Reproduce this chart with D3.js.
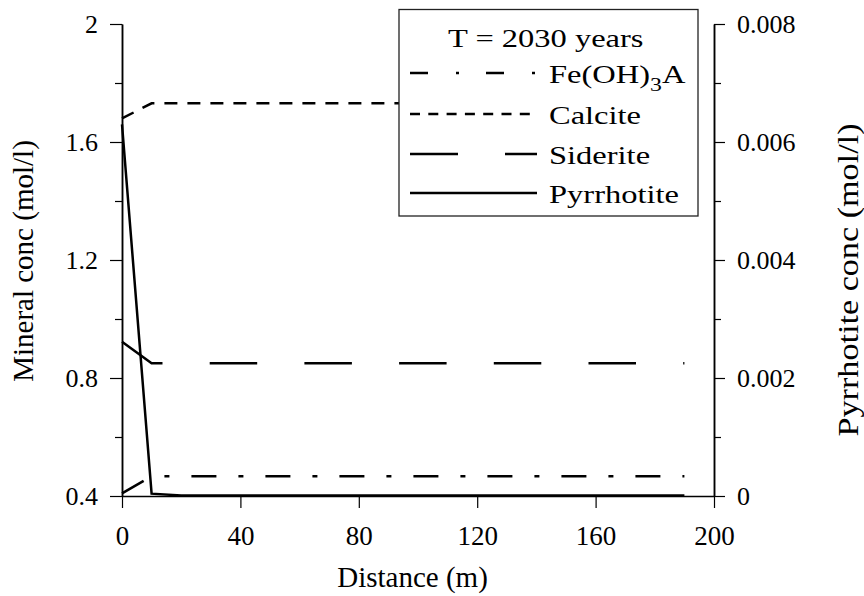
<!DOCTYPE html>
<html lang="en">
  <head>
    <meta charset="utf-8" />
    <script src="https://d3js.org/d3.v7.min.js"></script>
    <style>
      body {
        margin: 0;
        background-color: #fff;
      }
      svg text {
        font-family: "Liberation Serif", "Times New Roman", serif;
        fill: #000;
      }
    </style>
  </head>
  <body>
    <div id="chart"></div>

    <script>
      const width = 864;
      const height = 596;

      // distance grid (m)
      const distance = [0, 10, 20, 30, 40, 50, 60, 70, 80, 90, 100, 110, 120, 130, 140, 150, 160, 170, 180, 190];

      // mineral conc (mol/l), left axis
      const feoh3a = [0.409, 0.467, 0.467, 0.467, 0.467, 0.467, 0.467, 0.467, 0.467, 0.467, 0.467, 0.467, 0.467, 0.467, 0.467, 0.467, 0.467, 0.467, 0.467, 0.467];
      const calcite = [1.68, 1.731, 1.731, 1.731, 1.731, 1.731, 1.731, 1.731, 1.731, 1.731, 1.731, 1.731, 1.731, 1.731, 1.731, 1.731, 1.731, 1.731, 1.731, 1.731];
      const siderite = [0.923, 0.85, 0.85, 0.85, 0.85, 0.85, 0.85, 0.85, 0.85, 0.85, 0.85, 0.85, 0.85, 0.85, 0.85, 0.85, 0.85, 0.85, 0.85, 0.85];

      // pyrrhotite conc (mol/l), right axis
      const pyrrhotite = [0.0063, 0.00004, 0.00001, 0.00001, 0.00001, 0.00001, 0.00001, 0.00001, 0.00001, 0.00001, 0.00001, 0.00001, 0.00001, 0.00001, 0.00001, 0.00001, 0.00001, 0.00001, 0.00001, 0.00001];

      const xTicks = [0, 40, 80, 120, 160, 200];
      const xMinor = [20, 60, 100, 140, 180];
      const leftTicks = [0.4, 0.8, 1.2, 1.6, 2];
      const leftTickLabels = ["0.4", "0.8", "1.2", "1.6", "2"];
      const leftMinor = [0.6, 1.0, 1.4, 1.8];
      const rightTicks = [0, 0.002, 0.004, 0.006, 0.008];
      const rightTickLabels = ["0", "0.002", "0.004", "0.006", "0.008"];
      const rightMinor = [0.001, 0.003, 0.005, 0.007];

      const legendTitle = "T = 2030 years";
      const seriesNames = ["Fe(OH)3A", "Calcite", "Siderite", "Pyrrhotite"];

      // line styles per series
      const lineDash = {
        "Fe(OH)3A": "25,22,5,22",
        Calcite: "13,10",
        Siderite: "47.5,47.2",
        Pyrrhotite: null
      };
      const legendDash = {
        "Fe(OH)3A": "18,28,3,27",
        Calcite: "10,8.3",
        Siderite: "48,47",
        Pyrrhotite: null
      };

      const svg = d3
        .select("#chart")
        .append("svg")
        .attr("width", width)
        .attr("height", height);

      const x = d3.scaleLinear().domain([0, 200]).range([122, 714]);
      const yLeft = d3.scaleLinear().domain([0.4, 2]).range([496, 24]);
      const yRight = d3.scaleLinear().domain([0, 0.008]).range([496, 24]);

      function styleAxis(g) {
        g.attr("font-family", null).attr("font-size", null);
        g.select(".domain").attr("stroke", "#000").attr("stroke-width", 1.5);
        g.selectAll(".tick line").attr("stroke", "#000").attr("stroke-width", 1.2);
      }

      // bottom axis
      const gx = svg.append("g").attr("transform", "translate(0,496)");
      gx.call(d3.axisBottom(x).tickValues(xMinor).tickSize(7).tickSizeOuter(0).tickFormat(""));
      gx.call(
        d3.axisBottom(x).tickValues(xTicks).tickSize(12).tickSizeOuter(0).tickPadding(18).tickFormat((d) => String(d))
      );
      styleAxis(gx);
      gx.selectAll("text").style("font-size", "27px");

      // left axis
      const gl = svg.append("g").attr("transform", "translate(122,0)");
      gl.call(d3.axisLeft(yLeft).tickValues(leftMinor).tickSize(7).tickSizeOuter(0).tickFormat(""));
      const glMajor = svg.append("g").attr("transform", "translate(122,0)");
      glMajor.call(
        d3.axisLeft(yLeft).tickValues(leftTicks).tickSize(12).tickSizeOuter(0).tickPadding(12)
          .tickFormat((d, i) => leftTickLabels[i])
      );
      styleAxis(gl);
      styleAxis(glMajor);
      glMajor.selectAll("text").style("font-size", "26px");

      // right axis
      const gr = svg.append("g").attr("transform", "translate(714,0)");
      gr.call(d3.axisRight(yRight).tickValues(rightMinor).tickSize(7).tickSizeOuter(0).tickFormat(""));
      const grMajor = svg.append("g").attr("transform", "translate(714,0)");
      grMajor.call(
        d3.axisRight(yRight).tickValues(rightTicks).tickSize(11).tickSizeOuter(0).tickPadding(12)
          .tickFormat((d, i) => rightTickLabels[i])
      );
      styleAxis(gr);
      styleAxis(grMajor);
      grMajor.selectAll("text").style("font-size", "26px");

      // axis titles
      svg
        .append("text")
        .attr("transform", "translate(33,261) rotate(-90)")
        .attr("text-anchor", "middle")
        .style("font-size", "29px")
        .text("Mineral conc (mol/l)");

      svg
        .append("text")
        .attr("transform", "translate(858,280) rotate(-90)")
        .attr("text-anchor", "middle")
        .attr("textLength", 313)
        .attr("lengthAdjust", "spacingAndGlyphs")
        .style("font-size", "30px")
        .text("Pyrrhotite conc (mol/l)");

      svg
        .append("text")
        .attr("x", 412.5)
        .attr("y", 587)
        .attr("text-anchor", "middle")
        .style("font-size", "29px")
        .text("Distance (m)");

      // lines
      const leftSeries = { "Fe(OH)3A": feoh3a, Calcite: calcite, Siderite: siderite };
      const lineLeft = d3
        .line()
        .x((d, i) => x(distance[i]))
        .y((d) => yLeft(d));
      const lineRight = d3
        .line()
        .x((d, i) => x(distance[i]))
        .y((d) => yRight(d));

      Object.keys(leftSeries).forEach((name) => {
        svg
          .append("path")
          .datum(leftSeries[name])
          .attr("d", lineLeft)
          .attr("fill", "none")
          .attr("stroke", "#000")
          .attr("stroke-width", 2.5)
          .attr("stroke-dasharray", lineDash[name]);
      });

      svg
        .append("path")
        .datum(pyrrhotite)
        .attr("d", lineRight)
        .attr("fill", "none")
        .attr("stroke", "#000")
        .attr("stroke-width", 2.5);

      // legend
      const legend = svg.append("g");
      legend
        .append("rect")
        .attr("x", 399)
        .attr("y", 9.5)
        .attr("width", 299)
        .attr("height", 206.5)
        .attr("fill", "#fff")
        .attr("stroke", "#222")
        .attr("stroke-width", 1.3);

      legend
        .append("text")
        .attr("transform", "translate(448,46.5) scale(1.25,1)")
        .style("font-size", "26px")
        .text(legendTitle);

      const rowY = [83, 124, 164, 203];
      seriesNames.forEach((name, i) => {
        legend
          .append("line")
          .attr("x1", 410)
          .attr("x2", 537)
          .attr("y1", rowY[i] - 10)
          .attr("y2", rowY[i] - 10)
          .attr("stroke", "#000")
          .attr("stroke-width", 2.5)
          .attr("stroke-dasharray", legendDash[name]);

        const t = legend
          .append("text")
          .attr("transform", `translate(549,${rowY[i]}) scale(1.25,1)`)
          .style("font-size", "26px");
        if (name === "Fe(OH)3A") {
          t.append("tspan").text("Fe(OH)");
          t.append("tspan").attr("dy", 8).style("font-size", "19px").text("3");
          t.append("tspan").attr("dy", -8).text("A");
        } else {
          t.text(name);
        }
      });
    </script>
  </body>
</html>
